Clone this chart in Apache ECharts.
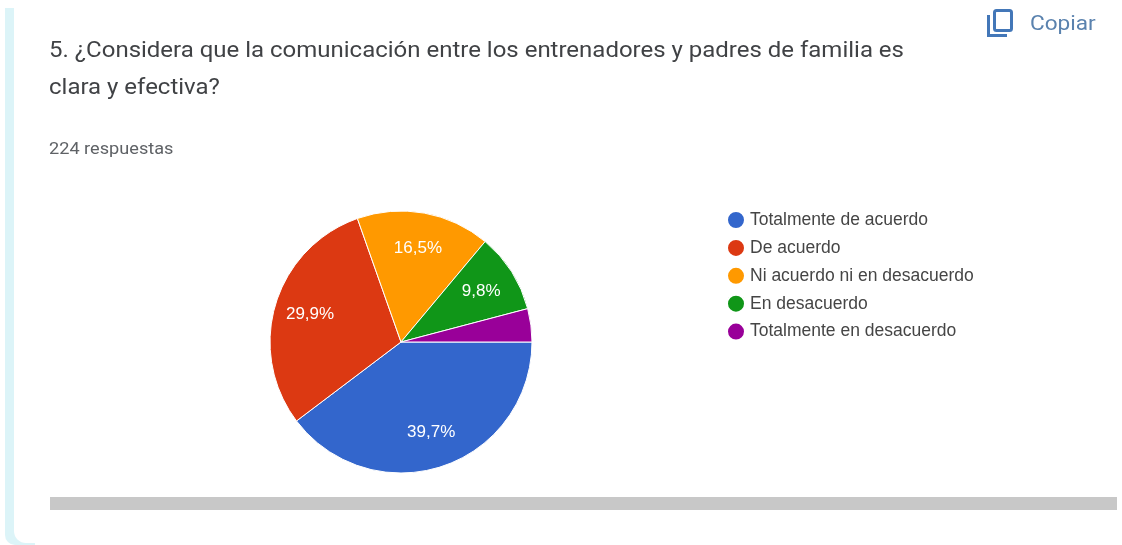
<!DOCTYPE html>
<html>
<head>
<meta charset="utf-8">
<style>html,body{margin:0;padding:0;background:#fff}#c{width:1122px;height:545px}</style>
<script src="https://cdn.jsdelivr.net/npm/echarts@6/dist/echarts.min.js"></script>
</head>
<body>
<div id="c"></div>
<script>
const categories = ['Totalmente de acuerdo','De acuerdo','Ni acuerdo ni en desacuerdo','En desacuerdo','Totalmente en desacuerdo'];
const values = [39.7,29.9,16.5,9.8,4.1];
const colors = ['#3366cc','#dc3912','#ff9900','#109618','#990099'];
const labelled = [true,true,true,true,false];
const titleLines = '5. ¿Considera que la comunicación entre los entrenadores y padres de familia es\nclara y efectiva?';
const responses = '224 respuestas';
const copyText = 'Copiar';

const cx = 401, cy = 342, R = 131, labelR = 95;
const chart = echarts.init(document.getElementById('c'), null, {renderer:'canvas'});
chart.setOption({
  animation:false,
  backgroundColor:'#ffffff',
  legend:{
    orient:'vertical',left:721,top:205,itemWidth:18,itemHeight:18,itemGap:7.9,
    icon:'circle',data:categories,selectedMode:false,
    textStyle:{fontFamily:'Liberation Sans',fontSize:17.5,lineHeight:18,color:'#454545'}
  },
  graphic:[
    {type:'rect',z:-2,shape:{x:5,y:8,width:30,height:537,r:[0,0,0,10]},style:{fill:'#dcf4f8'}},
    {type:'rect',z:-1,shape:{x:14,y:0,width:1108,height:543,r:[0,0,0,12]},style:{fill:'#ffffff'}},
    {type:'rect',shape:{x:50,y:497,width:1067,height:13},style:{fill:'#c8c8c8'}},
    {type:'text',x:49,y:33,scaleX:1.09,style:{text:titleLines,font:'400 22px Roboto',lineHeight:37,fill:'#404245'}},
    {type:'text',x:49,y:141,scaleX:1.1,style:{text:responses,font:'400 16.5px Roboto',fill:'#5f6266'}},
    {type:'rect',shape:{x:994.5,y:10.5,width:17,height:20,r:2},style:{fill:'none',stroke:'#4377b8',lineWidth:3}},
    {type:'polyline',shape:{points:[[988.5,15],[988.5,35.5],[1007,35.5]]},style:{fill:'none',stroke:'#4377b8',lineWidth:3}},
    {type:'text',x:1030,y:15,scaleX:1.13,style:{text:copyText,font:'400 20px Roboto',fill:'#5a82ae'}}
  ],
  series:[{
    type:'pie',center:[cx,cy],radius:[0,R],startAngle:0,clockwise:true,
    avoidLabelOverlap:false,silent:true,
    itemStyle:{borderColor:'#ffffff',borderWidth:1},
    label:{
      position:'inner',color:'#ffffff',fontFamily:'Liberation Sans',fontSize:17,
      formatter:p=>p.value.toFixed(1).replace('.',',')+'%'
    },
    labelLine:{show:false},
    labelLayout:p=>{
      const x=p.labelRect.x+p.labelRect.width/2-cx, y=p.labelRect.y+p.labelRect.height/2-cy;
      const d=Math.hypot(x,y)||1, k=labelR/d-1;
      return {dx:x*k,dy:y*k};
    },
    data:categories.map((name,i)=>({
      name,value:values[i],
      itemStyle:{color:colors[i]},
      label:{show:labelled[i]}
    }))
  }]
});
</script>
</body>
</html>
